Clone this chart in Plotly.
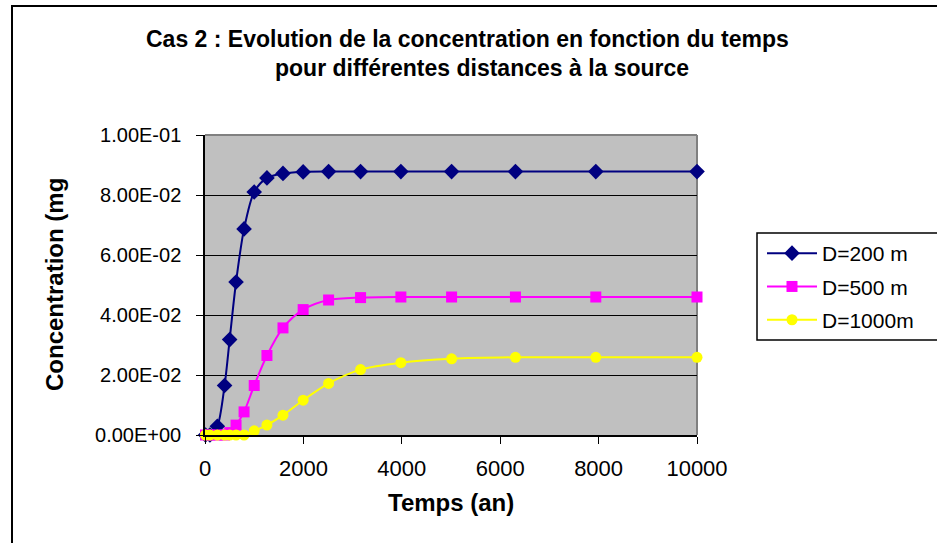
import plotly.graph_objects as go

# ---- data ----
temps = [10, 100, 251, 398, 501, 631, 794, 1000, 1259, 1585, 1995, 2512,
         3162, 3981, 5012, 6310, 7943, 10000]
c_d200 = [0, 0, 0.0029, 0.0165, 0.0318, 0.051, 0.0687, 0.081, 0.0857, 0.0872,
          0.0877, 0.0878, 0.0878, 0.0878, 0.0878, 0.0878, 0.0878, 0.0878]
c_d500 = [0, 0, 0, 0, 0.0008, 0.0033, 0.0077, 0.0165, 0.0265, 0.0357, 0.0418,
          0.045, 0.0458, 0.046, 0.046, 0.046, 0.046, 0.046]
c_d1000 = [0, 0, 0, 0, 0, 0, 0, 0.0014, 0.0033, 0.0066, 0.0116, 0.0172,
           0.0218, 0.0241, 0.0254, 0.0259, 0.0259, 0.0259]
series_names = ["D=200 m", "D=500 m", "D=1000m"]
y_tick_vals = [0, 0.02, 0.04, 0.06, 0.08, 0.10]
y_tick_text = ["0.00E+00", "2.00E-02", "4.00E-02", "6.00E-02", "8.00E-02", "1.00E-01"]
x_tick_vals = [0, 2000, 4000, 6000, 8000, 10000]
x_tick_text = ["0", "2000", "4000", "6000", "8000", "10000"]

FONT = "Liberation Sans, Arial, sans-serif"

W, H = 937, 543
L, R, T, B = 205, 240, 135, 108
PW, PH = W - L - R, H - T - B


def px_x(p):
    return (p - L) / PW


def px_y(p):
    return (H - B - p) / PH


fig = go.Figure()
styles = [
    dict(color="#000080", symbol="diamond", size=12),
    dict(color="#FF00FF", symbol="square", size=11),
    dict(color="#FFFF00", symbol="circle", size=11),
]
for i, (name, ys) in enumerate(zip(series_names, [c_d200, c_d500, c_d1000])):
    st = styles[i]
    fig.add_trace(go.Scatter(
        x=temps, y=ys, name=name, mode="lines+markers",
        line=dict(color=st["color"], width=2, shape="spline", smoothing=0.8),
        marker=dict(color=st["color"], symbol=st["symbol"], size=st["size"],
                    line=dict(width=0)),
        cliponaxis=False, legendgroup=f"g{i}",
    ))

fig.update_layout(
    width=W, height=H,
    margin=dict(l=L, r=R, t=T, b=B, pad=0),
    paper_bgcolor="white", plot_bgcolor="#C0C0C0",
    font=dict(family=FONT, color="black"),
    showlegend=True,
    legend=dict(x=px_x(762), y=px_y(233), xanchor="left", yanchor="top",
                bgcolor="rgba(0,0,0,0)", borderwidth=0,
                font=dict(family=FONT, size=21, color="black"),
                itemwidth=50, tracegroupgap=3, traceorder="grouped"),
)

fig.update_xaxes(
    range=[0, 10000], tickvals=x_tick_vals, ticktext=x_tick_text,
    ticks="outside", ticklen=7,
    tickcolor="black", tickwidth=1, showline=True, linecolor="black",
    linewidth=1.5, showgrid=False, zeroline=False,
    tickfont=dict(family=FONT, size=22, color="black"),
    ticklabelstandoff=6,
)
fig.update_yaxes(
    range=[0, 0.1], tickvals=y_tick_vals, ticktext=y_tick_text,
    ticks="outside", ticklen=7, tickcolor="black", tickwidth=1,
    showline=True, linecolor="black", linewidth=1.5,
    showgrid=True, gridcolor="black", gridwidth=1.2, zeroline=False,
    tickfont=dict(family=FONT, size=20, color="black"),
    ticklabelstandoff=11,
)

shapes = [
    # gray plot-area border at top and right
    dict(type="line", xref="paper", yref="paper", x0=0, x1=1, y0=1, y1=1,
         line=dict(color="#808080", width=2), layer="between"),
    dict(type="line", xref="paper", yref="paper", x0=1, x1=1, y0=0, y1=1,
         line=dict(color="#808080", width=2), layer="between"),
    # outer chart frame
    dict(type="rect", xref="paper", yref="paper",
         x0=px_x(12), x1=px_x(960), y0=px_y(560), y1=px_y(6),
         line=dict(color="black", width=2), fillcolor="rgba(0,0,0,0)"),
    # legend frame
    dict(type="rect", xref="paper", yref="paper",
         x0=px_x(757), x1=px_x(960), y0=px_y(340), y1=px_y(233),
         line=dict(color="black", width=1.5), fillcolor="rgba(0,0,0,0)"),
]
fig.update_layout(shapes=shapes)

annotations = [
    dict(text="<b>Cas 2 : Evolution de la concentration en fonction du temps</b>",
         x=px_x(467), y=px_y(39), xref="paper", yref="paper",
         xanchor="center", yanchor="middle", showarrow=False,
         font=dict(family=FONT, size=23, color="black")),
    dict(text="<b>pour différentes distances à la source</b>",
         x=px_x(482), y=px_y(68), xref="paper", yref="paper",
         xanchor="center", yanchor="middle", showarrow=False,
         font=dict(family=FONT, size=23, color="black")),
    dict(text="<b>Concentration (mg</b>", textangle=-90,
         x=px_x(54), y=px_y(285), xref="paper", yref="paper",
         xanchor="center", yanchor="middle", showarrow=False,
         font=dict(family=FONT, size=24, color="black")),
    dict(text="<b>Temps (an)</b>",
         x=px_x(451), y=px_y(502), xref="paper", yref="paper",
         xanchor="center", yanchor="middle", showarrow=False,
         font=dict(family=FONT, size=24, color="black")),
]
fig.update_layout(annotations=annotations)

fig.write_html("out.html")
